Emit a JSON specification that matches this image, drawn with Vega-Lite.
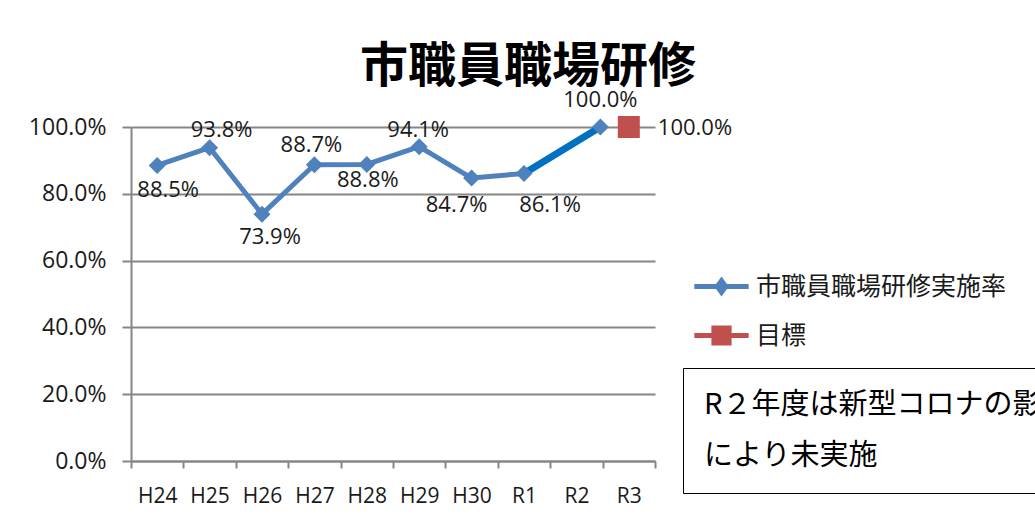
{
  "$schema": "https://vega.github.io/schema/vega-lite/v6.json",
  "width": 524,
  "height": 334,
  "autosize": {"type": "none"},
  "padding": {"left": 131, "top": 127, "right": 380, "bottom": 62},
  "background": "white",
  "config": {"view": {"stroke": null}},
  "title": {"text": "市職員職場研修", "font": "Noto Sans CJK JP", "fontSize": 48, "fontWeight": "bold", "color": "#000", "anchor": "middle", "dx": 135, "offset": -3},
  "datasets": {
    "rate": [
      {"year": "H24", "value": 0.885, "series": "市職員職場研修実施率"},
      {"year": "H25", "value": 0.938, "series": "市職員職場研修実施率"},
      {"year": "H26", "value": 0.739, "series": "市職員職場研修実施率"},
      {"year": "H27", "value": 0.887, "series": "市職員職場研修実施率"},
      {"year": "H28", "value": 0.888, "series": "市職員職場研修実施率"},
      {"year": "H29", "value": 0.941, "series": "市職員職場研修実施率"},
      {"year": "H30", "value": 0.847, "series": "市職員職場研修実施率"},
      {"year": "R1", "value": 0.861, "series": "市職員職場研修実施率"}
    ],
    "r2": [{"year": "R2", "value": 1.0, "series": "市職員職場研修実施率"}],
    "target": [{"year": "R3", "value": 1.0, "series": "目標"}],
    "seg": [{"year": "R1", "to": "R2", "value": 0.861, "v2": 1.0}],
    "note": [{"note": "R２年度は新型コロナの影響"}, {"note": "により未実施"}]
  },
  "encoding": {
    "x": {
      "field": "year", "type": "ordinal", "title": null,
      "scale": {"type": "band", "domain": ["H24", "H25", "H26", "H27", "H28", "H29", "H30", "R1", "R2", "R3"], "paddingInner": 0, "paddingOuter": 0},
      "axis": {"tickBand": "extent", "labelAngle": 0, "labelFont": "Open Sans", "labelFontSize": 21, "labelColor": "#1a1a1a", "labelPadding": 17, "tickSize": 7, "tickColor": "#868686", "tickWidth": 2, "domainColor": "#868686", "domainWidth": 2, "grid": false}
    },
    "y": {
      "field": "value", "type": "quantitative", "title": null,
      "scale": {"domain": [0, 1], "nice": false, "zero": true},
      "axis": {"values": [0, 0.2, 0.4, 0.6, 0.8, 1], "format": ".1%", "labelFont": "Open Sans", "labelFontSize": 23, "labelColor": "#1a1a1a", "labelPadding": 16, "tickSize": 9, "tickColor": "#868686", "tickWidth": 2, "domainColor": "#868686", "domainWidth": 2, "grid": true, "gridColor": "#868686", "gridWidth": 2}
    }
  },
  "layer": [
    {
      "data": {"name": "rate"},
      "mark": {"type": "line", "color": "#4F81BD", "strokeWidth": 5, "strokeJoin": "round", "strokeCap": "round"}
    },
    {
      "data": {"name": "seg"},
      "mark": {"type": "rule", "color": "#0070C0", "strokeWidth": 7, "x2Offset": 24},
      "encoding": {"x2": {"field": "to"}, "y2": {"field": "v2"}}
    },
    {
      "data": {"name": "rate"},
      "mark": {"type": "point", "filled": true, "shape": "diamond", "size": 290, "opacity": 1, "color": "#4F81BD"}
    },
    {
      "data": {"name": "r2"},
      "mark": {"type": "point", "filled": true, "shape": "diamond", "size": 290, "opacity": 1, "xOffset": 24, "color": "#4F81BD"}
    },
    {
      "data": {"name": "target"},
      "mark": {"type": "point", "filled": true, "shape": "square", "size": 484, "opacity": 1, "color": "#C0504D"}
    },
    {
      "data": {"name": "target"},
      "transform": [{"filter": "false"}],
      "mark": {"type": "point", "filled": true, "size": 1444, "strokeWidth": 5, "strokeCap": "round", "opacity": 1},
      "encoding": {
        "shape": {
          "field": "series", "type": "nominal",
          "scale": {"domain": ["市職員職場研修実施率", "目標"], "range": ["M-1.43,0L1.43,0M0,-0.3L0.22,0L0,0.3L-0.22,0Z", "M-1.43,0L1.43,0M-0.4,-0.4L0.4,-0.4L0.4,0.4L-0.4,0.4Z"]}
        },
        "fill": {
          "field": "series", "type": "nominal",
          "scale": {"domain": ["市職員職場研修実施率", "目標"], "range": ["#4F81BD", "#C0504D"]},
          "legend": {
            "orient": "none", "legendX": 569, "legendY": 138, "title": null, "padding": 0,
            "labelFont": "Noto Sans CJK JP", "labelFontSize": 25, "labelColor": "#1a1a1a", "labelLimit": 0, "labelOffset": 13,
            "rowPadding": 11, "symbolSize": 1444, "symbolStrokeWidth": 5, "symbolOpacity": 1
          }
        },
        "stroke": {
          "field": "series", "type": "nominal",
          "scale": {"domain": ["市職員職場研修実施率", "目標"], "range": ["#4F81BD", "#C0504D"]}
        }
      }
    },
    {"data": {"name": "rate"}, "transform": [{"filter": "datum.year === 'H24'"}], "mark": {"type": "text", "dx": 11, "dy": 25, "font": "Open Sans", "fontSize": 22, "color": "#1a1a1a", "baseline": "middle"}, "encoding": {"text": {"field": "value", "type": "quantitative", "format": ".1%"}}},
    {"data": {"name": "rate"}, "transform": [{"filter": "datum.year === 'H25'"}], "mark": {"type": "text", "dx": 12, "dy": -18, "font": "Open Sans", "fontSize": 22, "color": "#1a1a1a", "baseline": "middle"}, "encoding": {"text": {"field": "value", "type": "quantitative", "format": ".1%"}}},
    {"data": {"name": "rate"}, "transform": [{"filter": "datum.year === 'H26'"}], "mark": {"type": "text", "dx": 8, "dy": 23, "font": "Open Sans", "fontSize": 22, "color": "#1a1a1a", "baseline": "middle"}, "encoding": {"text": {"field": "value", "type": "quantitative", "format": ".1%"}}},
    {"data": {"name": "rate"}, "transform": [{"filter": "datum.year === 'H27'"}], "mark": {"type": "text", "dx": -3, "dy": -20, "font": "Open Sans", "fontSize": 22, "color": "#1a1a1a", "baseline": "middle"}, "encoding": {"text": {"field": "value", "type": "quantitative", "format": ".1%"}}},
    {"data": {"name": "rate"}, "transform": [{"filter": "datum.year === 'H28'"}], "mark": {"type": "text", "dx": 1, "dy": 16, "font": "Open Sans", "fontSize": 22, "color": "#1a1a1a", "baseline": "middle"}, "encoding": {"text": {"field": "value", "type": "quantitative", "format": ".1%"}}},
    {"data": {"name": "rate"}, "transform": [{"filter": "datum.year === 'H29'"}], "mark": {"type": "text", "dx": -1, "dy": -17, "font": "Open Sans", "fontSize": 22, "color": "#1a1a1a", "baseline": "middle"}, "encoding": {"text": {"field": "value", "type": "quantitative", "format": ".1%"}}},
    {"data": {"name": "rate"}, "transform": [{"filter": "datum.year === 'H30'"}], "mark": {"type": "text", "dx": -15, "dy": 27, "font": "Open Sans", "fontSize": 22, "color": "#1a1a1a", "baseline": "middle"}, "encoding": {"text": {"field": "value", "type": "quantitative", "format": ".1%"}}},
    {"data": {"name": "rate"}, "transform": [{"filter": "datum.year === 'R1'"}], "mark": {"type": "text", "dx": 26, "dy": 32, "font": "Open Sans", "fontSize": 22, "color": "#1a1a1a", "baseline": "middle"}, "encoding": {"text": {"field": "value", "type": "quantitative", "format": ".1%"}}},
    {"data": {"name": "r2"}, "mark": {"type": "text", "dx": 24, "dy": -27, "font": "Open Sans", "fontSize": 22, "color": "#1a1a1a", "baseline": "middle"}, "encoding": {"text": {"field": "value", "type": "quantitative", "format": ".1%"}}},
    {"data": {"name": "target"}, "mark": {"type": "text", "dx": 29, "dy": 1, "align": "left", "font": "Open Sans", "fontSize": 22, "color": "#1a1a1a", "baseline": "middle"}, "encoding": {"text": {"field": "value", "type": "quantitative", "format": ".1%"}}},
    {
      "data": {"name": "note"},
      "mark": {"type": "point", "opacity": 0},
      "encoding": {
        "strokeDash": {
          "field": "note", "type": "nominal",
          "scale": {"domain": ["R２年度は新型コロナの影響", "により未実施"]},
          "legend": {
            "orient": "none", "legendX": 552, "legendY": 241, "title": null, "padding": 22,
            "labelFont": "Noto Sans CJK JP", "labelFontSize": 29, "labelColor": "#000", "labelLimit": 0, "labelOffset": -30,
            "rowPadding": 21, "symbolSize": 0, "symbolOpacity": 0, "strokeColor": "#000", "fillColor": "#fff",
            "encode": {"legend": {"update": {"strokeWidth": {"value": 2}}}}
          }
        }
      }
    }
  ]
}
